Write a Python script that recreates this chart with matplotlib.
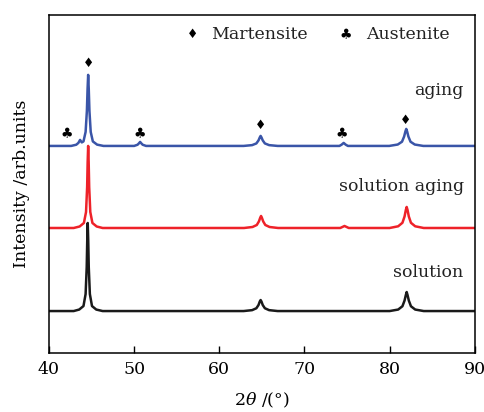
import matplotlib
matplotlib.use("Agg")
import matplotlib.pyplot as plt

# XRD patterns (2theta, intensity above each baseline)
two_theta_solution = [40,
                      42.9, 43.55, 44.05, 44.3, 44.43, 44.49, 44.55, 44.61, 44.67, 44.8, 45.05, 45.55, 46.3,
                      62.85, 63.85, 64.35, 64.6, 64.75, 64.85, 64.95, 65.1, 65.35, 65.85, 66.85,
                      80.0, 81.0, 81.5, 81.75, 81.9, 82.0, 82.1, 82.25, 82.5, 83.0, 84.0,
                      90]
int_solution = [0,
                0, 1.5, 5, 17, 44, 70, 88, 70, 44, 17, 5, 1.5, 0,
                0, 0.9, 2.8, 6, 9.5, 11, 9.5, 6, 2.8, 0.9, 0,
                0, 1.5, 4.8, 10.5, 16, 19, 16, 10.5, 4.8, 1.5, 0,
                0]

two_theta_sol_aging = [40,
                       42.9, 43.6, 44.1, 44.35, 44.48, 44.54, 44.6, 44.66, 44.72, 44.85, 45.1, 45.6, 46.3,
                       62.9, 63.9, 64.4, 64.65, 64.8, 64.9, 65.0, 65.15, 65.4, 65.9, 66.9,
                       74.2, 74.45, 74.7, 74.95, 75.2,
                       80.0, 81.0, 81.5, 81.75, 81.9, 82.0, 82.1, 82.25, 82.5, 83.0, 84.0,
                       90]
int_sol_aging = [0,
                 0, 1.5, 5, 16, 41, 66, 82, 66, 41, 16, 5, 1.5, 0,
                 0, 1, 3, 6.6, 10.2, 12, 10.2, 6.6, 3, 1, 0,
                 0, 1, 2, 1, 0,
                 0, 1.7, 5.2, 11.5, 18, 21, 18, 11.5, 5.2, 1.7, 0,
                 0]

two_theta_aging = [40,
                   42.6, 43.2, 43.45, 43.65, 43.85, 44.05, 44.3, 44.45, 44.53, 44.6, 44.67, 44.75,
                   44.9, 45.15, 45.65, 46.4,
                   50.0, 50.4, 50.55, 50.7, 50.85, 51.0, 51.4,
                   62.85, 63.85, 64.35, 64.6, 64.75, 64.85, 64.95, 65.1, 65.35, 65.85, 66.85,
                   74.1, 74.35, 74.6, 74.85, 75.1,
                   79.95, 80.95, 81.45, 81.7, 81.85, 81.95, 82.05, 82.2, 82.45, 82.95, 83.95,
                   90]
int_aging = [0,
             0, 1.2, 3, 6, 3.5, 4.5, 14, 35, 57, 71, 57, 35,
             14, 4.5, 1.3, 0,
             0, 1.2, 2.5, 4, 2.5, 1.2, 0,
             0, 0.8, 2.5, 5.5, 8.5, 10, 8.5, 5.5, 2.5, 0.8, 0,
             0, 1.2, 3, 1.2, 0,
             0, 1.4, 4.2, 9.4, 14.5, 17, 14.5, 9.4, 4.2, 1.4, 0,
             0]

offsets = [42, 125, 207]
labels = ["solution", "solution aging", "aging"]
label_y = [81, 166, 262]
colors = ["#1a1a1a", "#ee2229", "#3a55a8"]

# phase markers on the aging pattern
mart_x = [44.6, 64.8, 81.9]
mart_y = [289, 227, 232]
aust_x = [42.1, 50.6, 74.35]
aust_y = [219, 219, 219]

plt.rcParams['font.family'] = ['DejaVu Serif', 'DejaVu Sans']
plt.rcParams['mathtext.fontset'] = 'dejavuserif'

fig = plt.figure(figsize=(4.85, 4.12), dpi=100)
ax = fig.add_axes([0.101, 0.143, 0.878, 0.821])

series = [(two_theta_solution, int_solution),
          (two_theta_sol_aging, int_sol_aging),
          (two_theta_aging, int_aging)]
for (x, y), off, col in zip(series, offsets, colors):
    ax.plot(x, [v + off for v in y], color=col, lw=1.8)

for lab, ly in zip(labels, label_y):
    ax.text(88.7, ly, lab, ha='right', va='center', fontsize=12.5, color='#222222')

for x, y in zip(mart_x, mart_y):
    ax.text(x, y, "\u2666", ha='center', va='center', fontsize=9, family='DejaVu Sans')
for x, y in zip(aust_x, aust_y):
    ax.text(x, y, "\u2663", ha='center', va='center', fontsize=10, family='DejaVu Sans')

# legend row
ax.text(56.8, 318, "\u2666", ha='center', va='center', fontsize=9, family='DejaVu Sans')
ax.text(59.0, 318, "Martensite", ha='left', va='center', fontsize=12.5, color='#222222')
ax.text(74.9, 318, "\u2663", ha='center', va='center', fontsize=10, family='DejaVu Sans')
ax.text(77.2, 318, "Austenite", ha='left', va='center', fontsize=12.5, color='#222222')

ax.set_xlim(40, 90)
ax.set_ylim(0, 338)
ax.set_xticks([40, 50, 60, 70, 80, 90])
ax.set_yticks([])
ax.tick_params(axis='x', direction='in', length=5, width=1, labelsize=12.5, pad=6)
for sp in ax.spines.values():
    sp.set_linewidth(1.1)
ax.set_xlabel(r"2$\theta$ /(°)", fontsize=12.5, labelpad=9)
ax.set_ylabel("Intensity /arb.units", fontsize=12.5, labelpad=14)

fig.savefig("out.png", dpi=100)
